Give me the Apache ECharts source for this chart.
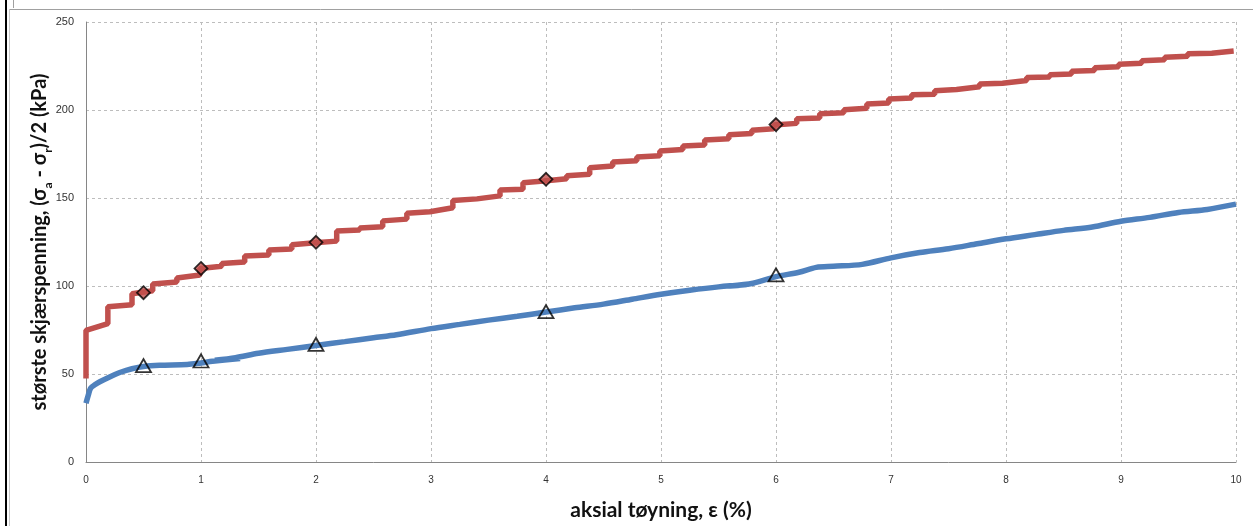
<!DOCTYPE html>
<html><head><meta charset="utf-8">
<script src="https://cdn.jsdelivr.net/npm/echarts@6/dist/echarts.min.js"></script>
<style>html,body{margin:0;padding:0;background:#fff}#c{width:1253px;height:526px}</style>
</head><body><div id="c"></div>
<script>
// Red curve (stepped), [strain %, kPa]
const redLine = [
[0,47.5],[0,74.8],[0.19,78.6],[0.19,88.2],[0.4,89.4],[0.4,95.6],[0.58,97.3],[0.58,101.2],
[0.79,102.3],[0.79,104.5],[0.99,106.2],[0.99,110],[1.18,111.2],[1.18,112.8],[1.38,113.6],[1.38,117],
[1.59,117.6],[1.59,120.5],[1.79,121],[1.79,123.5],[1.99,124.6],[2.18,125.5],[2.18,131.2],[2.38,131.8],[2.38,133],
[2.58,133.7],[2.58,137],[2.79,138],[2.79,141.4],[2.99,142.2],[2.99,143.3],[3.19,144.5],[3.19,148.6],
[3.4,149.5],[3.4,150.4],[3.6,151.2],[3.6,154.6],[3.8,155],[3.8,158.7],[3.98,159.6],[3.98,160.6],
[4.18,160.9],[4.18,162.7],[4.38,163.5],[4.38,167.2],[4.58,168.2],[4.58,170.4],[4.79,171.2],[4.79,173.3],
[4.99,174],[4.99,176.7],[5.19,177.6],[5.19,179.5],[5.38,180.1],[5.38,182.9],[5.59,183.7],[5.59,186],
[5.79,186.7],[5.79,188.5],[5.98,189.3],[5.98,191.5],[6.18,192.4],[6.18,195],[6.38,195.5],[6.38,197.8],
[6.59,198.4],[6.59,200.2],[6.79,201],[6.79,203.4],[6.98,204],[6.98,206.2],[7.18,206.8],[7.18,208.6],
[7.38,209],[7.38,211],[7.57,211.6],[7.57,212.4],[7.77,213.2],[7.77,214.8],[7.97,215.2],[7.97,216.2],
[8.18,216.8],[8.18,218.4],[8.38,218.8],[8.38,220],[8.57,220.4],[8.57,222],[8.77,222.5],[8.77,224],
[8.98,224.6],[8.98,226],[9.18,226.5],[9.18,228],[9.38,228.5],[9.38,230],[9.58,230.5],[9.58,231.9],
[9.79,232.3],[9.79,233.1],[9.98,233.5]
];
// Blue curve, [strain %, kPa]
const blueLine = [
[0,33.4],[0.02,38],[0.04,41.9],[0.08,44],[0.12,45.6],[0.21,48.5],[0.3,51],[0.4,53],[0.5,54.3],
[0.64,55],[0.88,55.4],[1.0,56.3],[1.1,57.2],[1.34,58.8],[1.12,57.8],[1.3,59.3],[1.5,61.8],[1.75,64],
[2.0,66.2],[2.25,68.4],[2.5,70.6],[2.7,72.3],[3.0,75.8],[3.25,78.2],[3.5,80.6],[3.75,82.8],[4.0,85.2],
[4.25,87.6],[4.5,89.7],[4.75,92.5],[5.0,95.3],[5.25,97.6],[5.5,99.5],[5.75,100.8],[5.6,100],[5.8,101.6],
[6.0,105.3],[6.2,107.8],[6.35,110.6],[6.5,111.2],[6.75,112.3],[7.0,116],[7.25,119],[7.5,121.2],[7.75,124],
[8.0,126.8],[8.25,129.2],[8.5,131.6],[8.75,133.5],[9.0,136.8],[9.25,139],[9.5,141.8],[9.75,143.5],[10.0,146.5]
];
const redMarkers = [[0.5,96.2],[1,110],[2,124.8],[4,160.6],[6,191.7]];
const blueMarkers = [[0.5,54.8],[1,57.4],[2,66.8],[4,85.4],[6,106.3]];
const xTicks = [0,1,2,3,4,5,6,7,8,9,10];
const yTicks = [0,50,100,150,200,250];

const chart = echarts.init(document.getElementById('c'), null, {renderer:'canvas'});
const dash = {type:[3,3], color:'#bdbdbd', width:1};
chart.setOption({
  animation:false,
  backgroundColor:'#fff',
  grid:{left:86, right:17, top:22, bottom:62, containLabel:false},
  xAxis:{type:'value', min:xTicks[0], max:xTicks[xTicks.length-1], interval:1,
    axisLine:{show:true, onZero:false, lineStyle:{color:'#868686', width:1}},
    axisTick:{show:false},
    axisLabel:{color:'#333', fontSize:10, fontFamily:'Liberation Sans', margin:13},
    splitLine:{show:true, lineStyle:dash},
    name:'aksial tøyning, ε (%)', nameLocation:'middle', nameGap:38,
    nameTextStyle:{fontFamily:'Lato', fontWeight:'bold', fontSize:21, color:'#111'}
  },
  yAxis:{type:'value', min:yTicks[0], max:yTicks[yTicks.length-1], interval:50,
    axisLine:{show:true, onZero:false, lineStyle:{color:'#868686', width:1}},
    axisTick:{show:false},
    axisLabel:{color:'#333', fontSize:11, fontFamily:'Liberation Sans', margin:12},
    splitLine:{show:true, lineStyle:dash},
    name:'{m|største skjærspenning, (σ}{s|a}{m| - σ}{s|r}{m|)/2 (kPa)}', nameLocation:'middle', nameGap:36,
    nameMoveOverlap:false,
    nameTextStyle:{fontFamily:'Lato', fontWeight:'bold', fontSize:20, color:'#111',
      rich:{m:{fontFamily:'Lato', fontWeight:'bold', fontSize:20, color:'#111', lineHeight:24, verticalAlign:'bottom'},
            s:{fontFamily:'Lato', fontWeight:'bold', fontSize:12, color:'#111', lineHeight:24, verticalAlign:'bottom', padding:[0,0,-4,0]}}}
  },
  graphic:[
    {type:'rect', shape:{x:5, y:0, width:2, height:526}, style:{fill:'#000'}, silent:true},
    {type:'line', shape:{x1:9.5, y1:9.5, x2:9.5, y2:526}, style:{stroke:'#c8c8c8', lineWidth:1}, silent:true},
    {type:'line', shape:{x1:9.5, y1:9.5, x2:1253, y2:9.5}, style:{stroke:'#a0a0a0', lineWidth:1}, silent:true},
    {type:'line', shape:{x1:13.5, y1:0, x2:13.5, y2:8}, style:{stroke:'#a0a0a0', lineWidth:1}, silent:true}
  ],
  series:[
    {type:'line', data:redLine, showSymbol:false, symbol:'none', lineStyle:{color:'#C0504D', width:5.5}, z:2},
    {type:'line', data:blueLine, showSymbol:false, symbol:'none', smooth:0.3, lineStyle:{color:'#4F81BD', width:5.5}, z:2},
    {type:'scatter', data:redMarkers, symbol:'diamond', symbolSize:[13,13],
      itemStyle:{color:'#C0504D', borderColor:'#000', borderWidth:1.8}, z:5},
    {type:'scatter', data:blueMarkers, symbol:'triangle', symbolSize:[15,13],
      itemStyle:{color:'rgba(0,0,0,0)', borderColor:'#000', borderWidth:1.8}, z:5}
  ]
});
</script></body></html>
